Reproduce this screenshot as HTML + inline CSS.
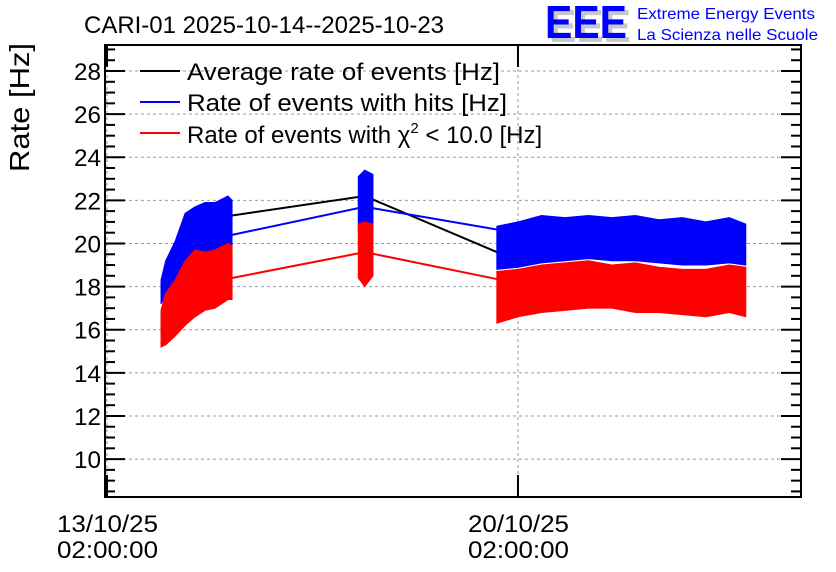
<!DOCTYPE html>
<html><head><meta charset="utf-8">
<style>
html,body{margin:0;padding:0;background:#fff;}
svg{display:block;font-family:"Liberation Sans",Arial,sans-serif;}
</style></head>
<body>
<svg id="chart" width="836" height="572" viewBox="0 0 836 572" xmlns="http://www.w3.org/2000/svg">
  <text x="84" y="33" font-size="24" fill="#000" textLength="360" lengthAdjust="spacingAndGlyphs">CARI-01 2025-10-14--2025-10-23</text>
  <g>
    <text x="549" y="42" font-size="46" font-weight="bold" fill="#c8c8c8" textLength="82" lengthAdjust="spacingAndGlyphs">EEE</text>
    <text x="545" y="38" font-size="46" font-weight="bold" fill="#0000ff" textLength="82" lengthAdjust="spacingAndGlyphs">EEE</text>
    <text x="637" y="19" font-size="16" fill="#0000ff" textLength="178" lengthAdjust="spacingAndGlyphs">Extreme Energy Events</text>
    <text x="637" y="40" font-size="16" fill="#0000ff" textLength="181" lengthAdjust="spacingAndGlyphs">La Scienza nelle Scuole</text>
  </g>
  <text transform="translate(29,172) rotate(-90)" font-size="28" fill="#000" textLength="129" lengthAdjust="spacingAndGlyphs">Rate [Hz]</text>
  <g id="grid"></g>
  <g id="series"></g>
  <g id="axes"></g>
  <g>
    <g>
      <line x1="140" y1="71" x2="180" y2="71" stroke="#000" stroke-width="2"/>
      <text x="187" y="80" font-size="24" textLength="313" lengthAdjust="spacingAndGlyphs">Average rate of events [Hz]</text>
    </g>
    <g>
      <line x1="140" y1="102" x2="180" y2="102" stroke="#0000ff" stroke-width="2"/>
      <text x="187" y="111" font-size="24" textLength="320" lengthAdjust="spacingAndGlyphs">Rate of events with hits [Hz]</text>
    </g>
    <g>
      <line x1="140" y1="133" x2="180" y2="133" stroke="#ff0000" stroke-width="2"/>
      <text x="187" y="143" font-size="24">Rate of events with χ<tspan font-size="15" dy="-10">2</tspan><tspan dy="10"> &lt; 10.0 [Hz]</tspan></text>
    </g>
  </g>
</svg>
<script>
// days since 13/10/25 02:00
const yTicks = [10,12,14,16,18,20,22,24,26,28];
const xTickDays = [0,7];
const xTickLabels = [["13/10/25","02:00:00"],["20/10/25","02:00:00"]];
// block envelopes
const b1Days = [0.92,1.00,1.16,1.33,1.50,1.67,1.84,2.06,2.13];
const b1BlueTop = [18.3,19.2,20.1,21.4,21.7,21.9,21.9,22.2,22.0];
const b1BlueBot = [17.2,17.6,18.0,18.6,19.0,19.3,19.5,19.8,19.8];
const b1RedTop = [16.9,17.7,18.3,19.2,19.7,19.6,19.7,20.0,19.9];
const b1RedBot = [15.2,15.3,15.7,16.2,16.6,16.9,17.0,17.4,17.4];
const b2Days = [4.28,4.39,4.53];
const b2BlueTop = [23.1,23.4,23.2];
const b2BlueBot = [20.6,20.6,20.7];
const b2RedTop = [20.9,21.0,20.9];
const b2RedBot = [18.4,18.0,18.5];
const b3Days = [6.64,7.0,7.4,7.8,8.2,8.6,9.0,9.4,9.8,10.2,10.6,10.88];
const b3BlueTop = [20.8,21.0,21.3,21.2,21.3,21.2,21.3,21.1,21.2,21.0,21.2,20.9];
const b3BlueBot = [18.8,18.9,19.1,19.2,19.3,19.2,19.2,19.1,19.0,19.0,19.1,19.0];
const b3RedTop = [18.7,18.8,19.0,19.1,19.2,19.0,19.1,18.9,18.8,18.8,19.0,18.9];
const b3RedBot = [16.3,16.6,16.8,16.9,17.0,17.0,16.8,16.8,16.7,16.6,16.8,16.6];
// connecting averages
const avgDays = [2.13,4.39,6.64];
const avgBlack = [21.3,22.2,19.6];
const avgBlue = [20.4,21.7,20.65];
const avgRed = [18.4,19.6,18.35];

const L=105,R=801,T=45,B=497;
const X0=107, PXD=58.71;
const xs = d => X0 + d*PXD;
const ys = v => 71 + (28 - v)*21.56;
const NS="http://www.w3.org/2000/svg";
function mk(tag, parent, attrs){const e=document.createElementNS(NS,tag);for(const k in attrs)e.setAttribute(k,attrs[k]);parent.appendChild(e);return e;}
const grid=document.getElementById('grid'), ser=document.getElementById('series'), ax=document.getElementById('axes');

yTicks.forEach(v=>{
  const g=mk('line',grid,{x1:L,x2:R,y1:ys(v),y2:ys(v),stroke:'#999','stroke-dasharray':'3,3','stroke-width':1});
  
  
});
xTickDays.forEach(d=>{
  const g=mk('line',grid,{x1:xs(d),x2:xs(d),y1:T,y2:B,stroke:'#999','stroke-dasharray':'3,3','stroke-width':1});
  
  
});

function band(days, top, bot, color, name){
  let pts=days.map((d,i)=>xs(d)+','+ys(top[i]));
  for(let i=days.length-1;i>=0;i--) pts.push(xs(days[i])+','+ys(bot[i]));
  const p=mk('polygon',ser,{points:pts.join(' '),fill:color,stroke:color,'stroke-width':1});
  
  
}
function line(days, vals, color, name){
  const p=mk('polyline',ser,{points:days.map((d,i)=>xs(d)+','+ys(vals[i])).join(' '),fill:'none',stroke:color,'stroke-width':2});
  
  
}
line(avgDays,avgBlack,'#000','average-rate-line');
line(avgDays,avgBlue,'#0000ff','hits-rate-line');
line(avgDays,avgRed,'#ff0000','chi2-rate-line');
band(b1Days,b1BlueTop,b1BlueBot,'#0000ff','hits-band-block1');
band(b2Days,b2BlueTop,b2BlueBot,'#0000ff','hits-band-block2');
band(b3Days,b3BlueTop,b3BlueBot,'#0000ff','hits-band-block3');
band(b1Days,b1RedTop,b1RedBot,'#ff0000','chi2-band-block1');
band(b2Days,b2RedTop,b2RedBot,'#ff0000','chi2-band-block2');
band(b3Days,b3RedTop,b3RedBot,'#ff0000','chi2-band-block3');

const fr=mk('rect',ax,{x:L,y:T,width:R-L,height:B-T,fill:'none',stroke:'#000','stroke-width':2});


for(let v=8.5; v<=29; v+=0.5){
  const major = Math.abs(v-Math.round(v))<1e-6 && Math.round(v)%2===0;
  const len = major?20:10;
  mk('line',ax,{x1:L,x2:L+len,y1:ys(v),y2:ys(v),stroke:'#000','stroke-width':2});
  mk('line',ax,{x1:R,x2:R-len,y1:ys(v),y2:ys(v),stroke:'#000','stroke-width':2});
}
yTicks.forEach(v=>{
  const t=mk('text',ax,{x:101,y:ys(v)+9,'font-size':24,'text-anchor':'end',textLength:27,lengthAdjust:'spacingAndGlyphs'});
  t.textContent=v;
  
  
});
xTickDays.forEach((d,i)=>{
  mk('line',ax,{x1:xs(d),x2:xs(d),y1:B,y2:B-22,stroke:'#000','stroke-width':2});
  mk('line',ax,{x1:xs(d),x2:xs(d),y1:T,y2:T+22,stroke:'#000','stroke-width':2});
  const t=mk('text',ax,{x:xs(d)-50,y:532,'font-size':24,textLength:101,lengthAdjust:'spacingAndGlyphs'});
  t.textContent=xTickLabels[i][0];
  
  
  const t2=mk('text',ax,{x:xs(d)-50,y:558,'font-size':24,textLength:101,lengthAdjust:'spacingAndGlyphs'});
  t2.textContent=xTickLabels[i][1];
  
  
});
</script>
</body></html>
